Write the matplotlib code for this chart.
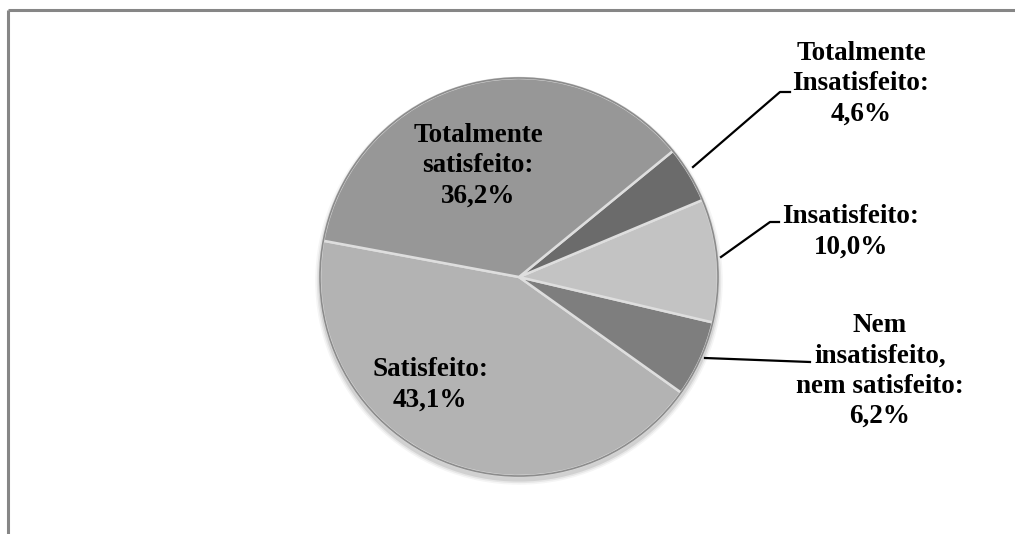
import matplotlib.pyplot as plt
from matplotlib.patches import Circle

# satisfaction shares, counter-clockwise from the left edge of the pie
labels = ['Satisfeito:\n43,1%',
          'Nem\ninsatisfeito,\nnem satisfeito:\n6,2%',
          'Insatisfeito:\n10,0%',
          'Totalmente\nInsatisfeito:\n4,6%',
          'Totalmente\nsatisfeito:\n36,2%']
values = [43.1, 6.2, 10.0, 4.6, 36.2]
colors = ['#b3b3b3', '#7e7e7e', '#c3c3c3', '#6b6b6b', '#979797']

W, H = 1015, 534
fig = plt.figure(figsize=(W / 100, H / 100), dpi=100)
fig.patch.set_facecolor('white')

# pie axes: centre (519, 277) px, radius 201 px
cx, cy, r = 519, 277, 201
ax = fig.add_axes([(cx - r) / W, (H - cy - r) / H, 2 * r / W, 2 * r / H])

# soft drop shadow under the disc
for k, a in enumerate([0.04, 0.06, 0.09]):
    ax.add_patch(Circle((0, -0.02), 1.0 + 0.008 * (3 - k),
                        color='black', alpha=a, lw=0, zorder=0, clip_on=False))

wedges, _ = ax.pie(values, colors=colors, startangle=169.5, counterclock=True,
                   radius=1.0,
                   wedgeprops=dict(edgecolor='#dedede', linewidth=1.8))
ax.add_patch(Circle((0, 0), 1.0, fill=False, edgecolor='#8c8c8c', lw=1.2,
                    zorder=5, clip_on=False))
ax.set_aspect('auto')
ax.set_xlim(-1.01, 1.01)
ax.set_ylim(-1.01, 1.01)
ax.axis('off')

# overlay in pixel coordinates for frame, labels and leader lines
ov = fig.add_axes([0, 0, 1, 1], facecolor='none')
ov.set_xlim(0, W)
ov.set_ylim(H, 0)
ov.axis('off')

# frame (top and left edges visible)
ov.plot([8, W], [10, 10], color='#868686', lw=2.2, solid_capstyle='butt')
ov.plot([8, 8], [10, H], color='#868686', lw=2.2, solid_capstyle='butt')

font = dict(family=['Liberation Serif', 'DejaVu Serif'], fontsize=19.5,
            fontweight='bold', ha='center', va='center', linespacing=1.27)

# inside labels
ov.text(430, 385, labels[0], **font)
ov.text(478, 166, labels[4], **font)

# outside labels
ov.text(861, 84, labels[3], **font)
ov.text(851, 232, labels[2], **font)
ov.text(880, 371, labels[1], **font)

# leader lines
ov.plot([693, 780, 790], [167, 92, 92], color='black', lw=1.6)
ov.plot([721, 770, 779], [257, 222, 222], color='black', lw=1.6)
ov.plot([705, 810], [358, 362], color='black', lw=1.6)

fig.savefig('out.png', dpi=100)
